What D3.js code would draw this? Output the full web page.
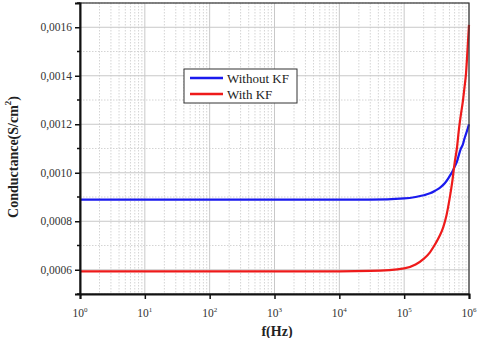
<!DOCTYPE html>
<html><head><meta charset="utf-8">
<script src="https://cdn.jsdelivr.net/npm/d3@7"></script>
<style>body{margin:0;background:#fff}svg{display:block}text{font-family:"Liberation Serif","Times New Roman",serif}</style>
</head><body>
<script>
const freqs = [1, 10, 100, 1000, 10000, 30000, 100000, 150000, 200000, 250000, 300000, 350000, 400000, 450000, 500000, 550000, 600000, 650000, 700000, 750000, 800000, 850000, 900000, 950000, 1000000];
const withoutKF = [0.000889, 0.000889, 0.000889, 0.000889, 0.000889, 0.000889, 0.000894, 0.0009, 0.000907, 0.000915, 0.000926, 0.000937, 0.00095, 0.000966, 0.000985, 0.001003, 0.001025, 0.001045, 0.001075, 0.0011, 0.001115, 0.00114, 0.00116, 0.00118, 0.0012];
const withKF = [0.000593, 0.000593, 0.000593, 0.000593, 0.000593, 0.000595, 0.000606, 0.000622, 0.000645, 0.000672, 0.000705, 0.000738, 0.000775, 0.000825, 0.00089, 0.00096, 0.00104, 0.0011, 0.00118, 0.00124, 0.00129, 0.00135, 0.00141, 0.00151, 0.00161];
const seriesNames = ["Without KF", "With KF"];
const seriesColors = ["#1a1aee", "#ee1a1a"];
const yTicks = [0.0006, 0.0008, 0.0010, 0.0012, 0.0014, 0.0016];
const yMinor = [0.0005, 0.0007, 0.0009, 0.0011, 0.0013, 0.0015, 0.0017];
const xExponents = [0, 1, 2, 3, 4, 5, 6];

const W = 478, H = 338;
const m = {left: 80, right: 8, top: 3, bottom: 44};
const svg = d3.select("body").append("svg").attr("width", W).attr("height", H);
const x = d3.scaleLog().domain([1, 1e6]).range([m.left, W - m.right - 1]);
const y = d3.scaleLinear().domain([0.0005, 0.0017]).range([H - m.bottom, m.top]);

// minor grid
const xMinorVals = [];
for (let e = 0; e < 6; e++) for (let k = 2; k <= 9; k++) xMinorVals.push(k * Math.pow(10, e));
svg.append("g").selectAll("line").data(xMinorVals).join("line")
  .attr("x1", d => x(d)).attr("x2", d => x(d)).attr("y1", y(0.0017)).attr("y2", y(0.0005))
  .attr("stroke", "#d4d4d4").attr("stroke-width", 1).attr("stroke-dasharray", "1.5,1.5");
svg.append("g").selectAll("line").data(yMinor).join("line")
  .attr("x1", x(1)).attr("x2", x(1e6)).attr("y1", d => y(d)).attr("y2", d => y(d))
  .attr("stroke", "#d4d4d4").attr("stroke-width", 1).attr("stroke-dasharray", "1.5,1.5");
// major grid
svg.append("g").selectAll("line").data(xExponents.map(e => Math.pow(10, e))).join("line")
  .attr("x1", d => x(d)).attr("x2", d => x(d)).attr("y1", y(0.0017)).attr("y2", y(0.0005))
  .attr("stroke", "#c8c8c8").attr("stroke-width", 1);
svg.append("g").selectAll("line").data(yTicks).join("line")
  .attr("x1", x(1)).attr("x2", x(1e6)).attr("y1", d => y(d)).attr("y2", d => y(d))
  .attr("stroke", "#c8c8c8").attr("stroke-width", 1);

// curves
const data = [withoutKF, withKF];
const line = d3.line().x((d, i) => x(freqs[i])).y(d => y(d)).curve(d3.curveMonotoneX);
data.forEach((s, k) => {
  svg.append("path").datum(s).attr("d", line).attr("fill", "none")
    .attr("stroke", seriesColors[k]).attr("stroke-width", 2.2);
});

// frame top/right
svg.append("rect").attr("x", x(1)).attr("y", y(0.0017)).attr("width", x(1e6) - x(1)).attr("height", y(0.0005) - y(0.0017))
  .attr("fill", "none").attr("stroke", "#333").attr("stroke-width", 1.2);

// y axis
const ya = svg.append("g").attr("transform", `translate(${x(1)},0)`)
  .call(d3.axisLeft(y).tickValues(yTicks).tickSize(5).tickPadding(3).tickFormat(d => d3.format(".4f")(d).replace(".", ",")));
ya.select(".domain").attr("stroke", "#111").attr("stroke-width", 2);
ya.selectAll(".tick line").attr("stroke", "#111").attr("stroke-width", 1.5);
ya.selectAll("text").attr("font-family", null).attr("font-size", 11.5).attr("fill", "#333");
ya.attr("font-family", null);
svg.append("g").selectAll("line").data(yMinor).join("line")
  .attr("x1", x(1) - 3).attr("x2", x(1)).attr("y1", d => y(d)).attr("y2", d => y(d))
  .attr("stroke", "#111").attr("stroke-width", 1.5);

// x axis
const xa = svg.append("g").attr("transform", `translate(0,${y(0.0005)})`)
  .call(d3.axisBottom(x).tickValues(xExponents.map(e => Math.pow(10, e))).tickSize(5).tickFormat(""));
xa.select(".domain").attr("stroke", "#111").attr("stroke-width", 2);
xa.selectAll(".tick line").attr("stroke", "#111").attr("stroke-width", 1.5);
const xl = svg.append("g").selectAll("text").data(xExponents).join("text")
  .attr("x", e => x(Math.pow(10, e))).attr("y", 317)
  .attr("text-anchor", "middle").attr("font-size", 11.5).attr("fill", "#333");
xl.append("tspan").text("10");
xl.append("tspan").attr("dy", -5).attr("font-size", 7).text(e => e);

// axis titles
svg.append("text").attr("x", 277).attr("y", 336).attr("text-anchor", "middle")
  .attr("font-weight", "bold").attr("font-size", 14).attr("fill", "#222").text("f(Hz)");
const yt = svg.append("text").attr("transform", "translate(18,157) rotate(-90)").attr("text-anchor", "middle")
  .attr("font-weight", "bold").attr("font-size", 14).attr("fill", "#222");
yt.append("tspan").text("Conductance(S/cm");
yt.append("tspan").attr("dy", -7).attr("font-size", 9).text("2");
yt.append("tspan").attr("dy", 7).text(")");

// legend
const lg = svg.append("g");
lg.append("rect").attr("x", 184).attr("y", 69).attr("width", 113).attr("height", 34)
  .attr("fill", "#fff").attr("stroke", "#333").attr("stroke-width", 1);
seriesNames.forEach((n, k) => {
  const yy = 78 + k * 16;
  lg.append("line").attr("x1", 190).attr("x2", 223).attr("y1", yy).attr("y2", yy)
    .attr("stroke", seriesColors[k]).attr("stroke-width", 2.5);
  lg.append("text").attr("x", 227).attr("y", yy + 4.5)
    .attr("font-size", 13).attr("fill", "#222").text(n);
});
</script>
</body></html>
